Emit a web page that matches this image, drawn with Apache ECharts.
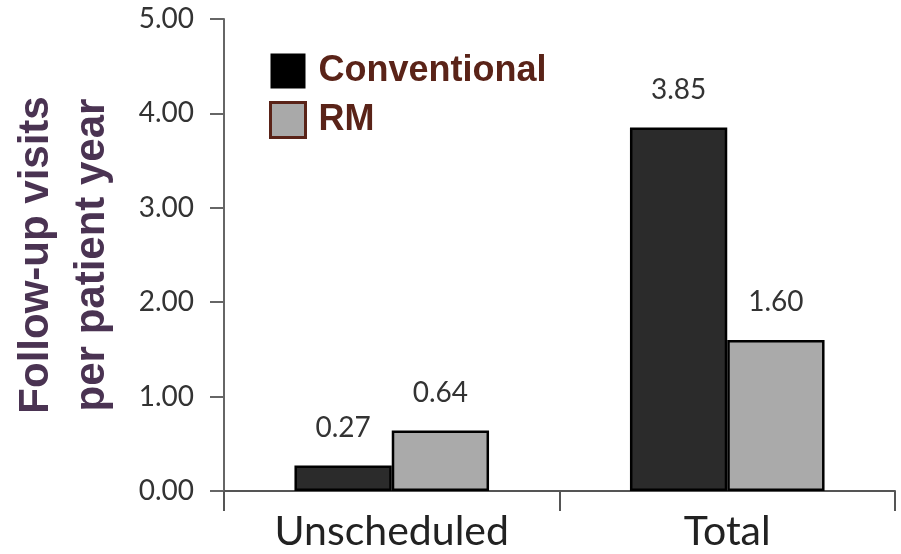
<!DOCTYPE html>
<html>
<head>
<meta charset="utf-8">
<script src="https://cdn.jsdelivr.net/npm/echarts@6/dist/echarts.min.js"></script>
<style>
  html, body { margin: 0; padding: 0; background: #fff; }
  #chart { width: 901px; height: 554px; }
</style>
</head>
<body>
<div id="chart"></div>
<script>
// Follow-up visits per patient year, conventional vs remote monitoring
const categories = ['Unscheduled', 'Total'];
const conventional = [0.27, 3.85];
const rm = [0.64, 1.60];
const yTicks = [0, 1, 2, 3, 4, 5];

const chart = echarts.init(document.getElementById('chart'), null, { renderer: 'canvas' });

const bodyFont = 'Lato, "Open Sans", sans-serif';
const titleFont = '"Liberation Sans", Arial, sans-serif';

const valueLabel = {
  show: true,
  position: 'top',
  distance: 24,
  color: '#333',
  fontFamily: bodyFont,
  fontSize: 28,
  formatter: p => p.value.toFixed(2)
};

chart.setOption({
  animation: false,
  backgroundColor: '#ffffff',
  grid: { left: 222, right: 6, top: 19, bottom: 63, containLabel: false },
  legend: {
    left: 264,
    top: 48,
    orient: 'vertical',
    itemWidth: 35,
    itemHeight: 35,
    itemGap: 12,
    icon: 'rect',
    textStyle: {
      color: '#5a2318',
      fontFamily: titleFont,
      fontWeight: 'bold',
      fontSize: 36,
      padding: [0, 0, 0, 8]
    },
    data: [
      { name: 'Conventional', itemStyle: { color: '#000', borderWidth: 0 } },
      { name: 'RM', itemStyle: { color: '#a9a9a9', borderColor: '#5a2318', borderWidth: 3 } }
    ]
  },
  xAxis: {
    type: 'category',
    data: categories,
    axisLine: { show: true, lineStyle: { color: '#555', width: 2 } },
    axisTick: { show: true, alignWithLabel: false, length: 20, lineStyle: { color: '#555', width: 2 } },
    axisLabel: {
      color: '#222',
      fontFamily: bodyFont,
      fontSize: 41,
      margin: 20
    }
  },
  yAxis: {
    type: 'value',
    min: yTicks[0],
    max: yTicks[yTicks.length - 1],
    interval: 1,
    name: 'Follow-up visits\nper patient year',
    nameLocation: 'middle',
    nameGap: 104,
    nameTextStyle: {
      color: '#4a3352',
      fontFamily: titleFont,
      fontWeight: 'bold',
      fontSize: 42,
      lineHeight: 56
    },
    splitLine: { show: false },
    axisLine: { show: true, lineStyle: { color: '#666', width: 2 } },
    axisTick: { show: true, length: 14, lineStyle: { color: '#666', width: 2 } },
    axisLabel: {
      color: '#333',
      fontFamily: bodyFont,
      fontSize: 28,
      margin: 30,
      formatter: v => v.toFixed(2)
    }
  },
  series: [
    {
      name: 'Conventional',
      type: 'bar',
      data: conventional,
      barGap: '0%',
      barCategoryGap: '42%',
      itemStyle: { color: '#2b2b2b', borderColor: '#000', borderWidth: 2.5 },
      label: valueLabel
    },
    {
      name: 'RM',
      type: 'bar',
      data: rm,
      itemStyle: { color: '#aaaaaa', borderColor: '#000', borderWidth: 2.5 },
      label: valueLabel
    }
  ]
});
</script>
</body>
</html>
